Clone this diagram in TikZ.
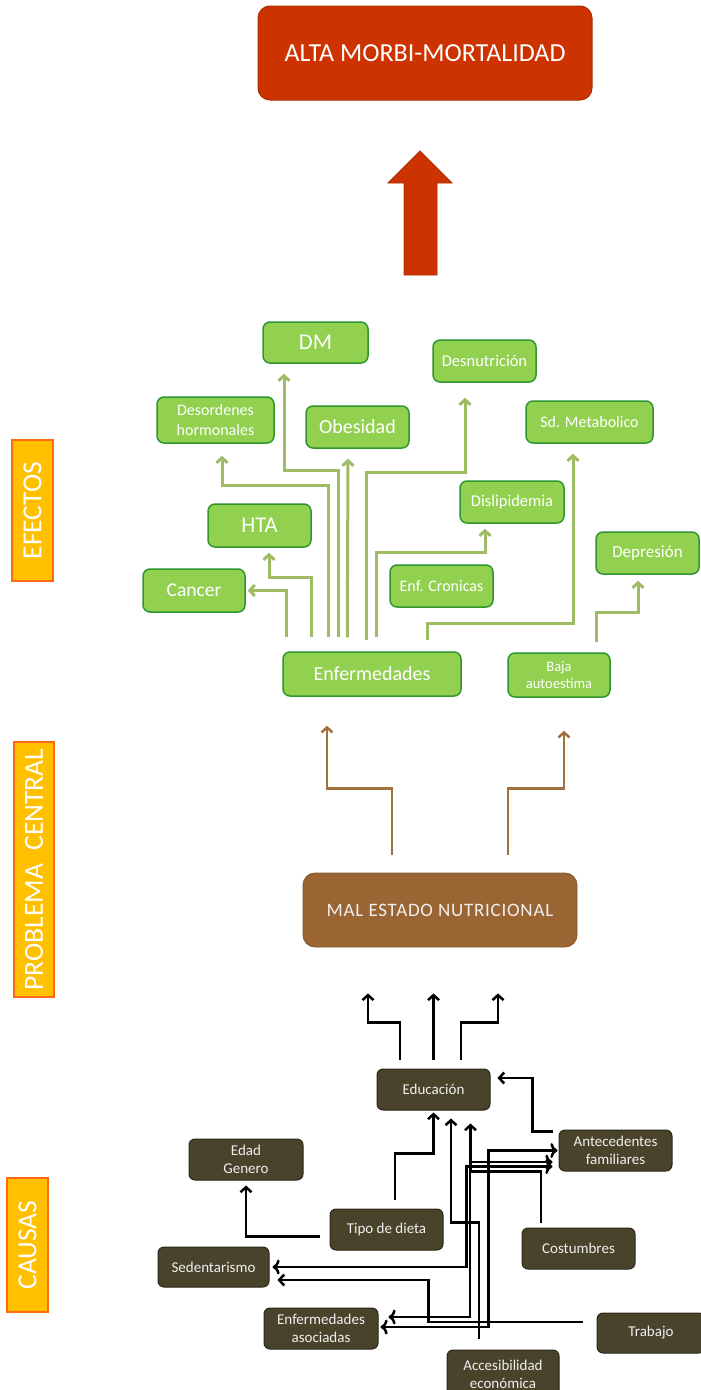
\documentclass[tikz,border=0pt]{standalone}
\usepackage{fontspec}
\setmainfont{Carlito}
\usetikzlibrary{arrows.meta, calc}

\definecolor{altared}{HTML}{CC3300}
\definecolor{altaborder}{HTML}{B02C00}
\definecolor{effgreen}{HTML}{92D050}
\definecolor{effborder}{HTML}{2F962F}
\definecolor{effline}{HTML}{9EBC66}
\definecolor{malfill}{HTML}{9A6433}
\definecolor{probline}{HTML}{A0703E}
\definecolor{causefill}{HTML}{4A432B}
\definecolor{causeborder}{HTML}{2A2718}
\definecolor{causetext}{HTML}{EFEFEF}
\definecolor{tagfill}{HTML}{FFC000}
\definecolor{tagborder}{HTML}{FF6A10}

\begin{document}
\begin{tikzpicture}[x=1pt, y=-1pt,
    effbox/.style={draw=effborder, fill=effgreen, line width=1.5pt, rounded corners=7pt, text=white, align=center, inner sep=1pt},
    causebox/.style={draw=causeborder, fill=causefill, line width=1pt, rounded corners=6pt, text=causetext, align=center, inner sep=1pt, font=\fontsize{15}{18}\selectfont},
    tagbox/.style={draw=tagborder, fill=tagfill, line width=1.5pt, text=white, rotate=90, inner sep=0pt, font=\fontsize{27.5}{30}\selectfont},
    effarrow/.style={-{Straight Barb[length=5pt,width=11pt]}, line width=3pt, effline},
    probarrow/.style={-{Straight Barb[length=5pt,width=11pt]}, line width=2.5pt, probline},
    causearrow/.style={-{Straight Barb[length=5pt,width=11pt]}, line width=2.5pt, black}]

    \useasboundingbox (0,0) rectangle (701,1390);

    \node[draw=altaborder, fill=altared, line width=1pt, rounded corners=12pt, text=white,
          minimum width=334, minimum height=94, font=\fontsize{26}{29}\selectfont] (alta) at (425,53) {ALTA MORBI-MORTALIDAD};
    \filldraw[fill=altared, draw=altaborder, line width=0.8pt]
        (404,275) -- (404,183) -- (388,183) -- (420,151) -- (452,183) -- (437,183) -- (437,275) -- cycle;

    \node[tagbox, minimum width=141, minimum height=41] (tagefe) at (32.5,510.5) {EFECTOS};
    \node[tagbox, minimum width=255, minimum height=40] (tagpro) at (34,869.5) {PROBLEMA\hspace{0.5em}CENTRAL};
    \node[tagbox, minimum width=134, minimum height=41] (tagcau) at (27.5,1245) {CAUSAS};

    \node[effbox, minimum width=105, minimum height=41, font=\fontsize{22.5}{25}\selectfont] (dm) at (315.5,342.5) {DM};
    \node[effbox, minimum width=117, minimum height=46, font=\fontsize{16}{19.5}\selectfont] (desord) at (215.5,420) {Desordenes\\hormonales};
    \node[effbox, minimum width=103, minimum height=42, font=\fontsize{20}{23}\selectfont] (obes) at (357.5,427) {Obesidad};
    \node[effbox, minimum width=103, minimum height=43, font=\fontsize{22.5}{25}\selectfont] (hta) at (259.5,525.5) {HTA};
    \node[effbox, minimum width=102, minimum height=43, font=\fontsize{19.5}{22}\selectfont] (cancer) at (194,590.5) {Cancer};
    \node[effbox, minimum width=178, minimum height=44, font=\fontsize{20}{23}\selectfont] (enf) at (372,674) {Enfermedades};
    \node[effbox, minimum width=103, minimum height=42, font=\fontsize{16}{19}\selectfont] (cron) at (441.5,586) {Enf. Cronicas};
    \node[effbox, minimum width=103, minimum height=42, font=\fontsize{16.5}{19}\selectfont] (desnut) at (484.5,361) {Desnutrición};
    \node[effbox, minimum width=127, minimum height=42, font=\fontsize{16}{19}\selectfont] (sdmet) at (589.5,422) {Sd. Metabolico};
    \node[effbox, minimum width=104, minimum height=42, font=\fontsize{16.5}{19}\selectfont] (dislip) at (512,502) {Dislipidemia};
    \node[effbox, minimum width=103, minimum height=42, font=\fontsize{17}{20}\selectfont] (depre) at (647.5,553) {Depresión};
    \node[effbox, minimum width=102, minimum height=44, font=\fontsize{14.5}{17}\selectfont] (baja) at (559,675) {Baja\\autoestima};

    \draw[effarrow] ([xshift=4pt,yshift=14pt]enf.north west) |- ([xshift=2pt]cancer.east);
    \draw[effarrow] ([xshift=29pt,yshift=14pt]enf.north west) |- ([xshift=9.5pt,yshift=-30pt]hta.south) -- ([xshift=9.5pt,yshift=-5pt]hta.south);
    \draw[effarrow] ([xshift=46pt,yshift=14pt]enf.north west) |- ([xshift=6.5pt,yshift=-42pt]desord.south) -- ([xshift=6.5pt,yshift=-12pt]desord.south);
    \draw[effarrow] ([xshift=56pt,yshift=14pt]enf.north west) |- ([xshift=-31.5pt,yshift=-107pt]dm.south) -- ([xshift=-31.5pt,yshift=-10pt]dm.south);
    \draw[effarrow] ([xshift=65pt,yshift=14pt]enf.north west) -- ([xshift=-9.5pt,yshift=-10pt]obes.south);
    \draw[effarrow] ([xshift=84pt,yshift=11pt]enf.north west) |- ([xshift=-19.5pt,yshift=-90pt]desnut.south) -- ([xshift=-19.5pt,yshift=-15pt]desnut.south);
    \draw[effarrow] ([xshift=94pt,yshift=14pt]enf.north west) |- ([xshift=-27pt,yshift=-29pt]dislip.south) -- ([xshift=-27pt,yshift=-5pt]dislip.south);
    \draw[effarrow] ([xshift=145pt,yshift=11pt]enf.north west) |- ([xshift=-16.5pt,yshift=-180pt]sdmet.south) -- ([xshift=-16.5pt,yshift=-10pt]sdmet.south);
    \draw[effarrow] ([xshift=37pt,yshift=10pt]baja.north) |- ([xshift=-9.5pt,yshift=-38pt]depre.south) -- ([xshift=-9.5pt,yshift=-6pt]depre.south);

    \node[fill=malfill, draw=malfill!85!black, line width=0.8pt, rounded corners=12pt, text=causetext,
          minimum width=274, minimum height=74, font=\fontsize{19}{22}\selectfont\addfontfeatures{LetterSpace=4}] (mal) at (440,910) {MAL ESTADO NUTRICIONAL};

    \draw[probarrow] ([xshift=-48pt,yshift=18pt]mal.north) -- ++(0,-66) -| ([xshift=-45pt,yshift=-29pt]enf.south);
    \draw[probarrow] ([xshift=68pt,yshift=18pt]mal.north) -- ++(0,-66) -| ([xshift=5pt,yshift=-33pt]baja.south);

    \node[causebox, minimum width=113, minimum height=41] (educ) at (433.5,1089.5) {Educación};
    \node[causebox, minimum width=114, minimum height=41] (edad) at (246,1159.5) {Edad\\Genero};
    \node[causebox, minimum width=113, minimum height=41] (tipo) at (386.5,1229.5) {Tipo de dieta};
    \node[causebox, minimum width=111, minimum height=40] (sedent) at (213.5,1267) {Sedentarismo};
    \node[causebox, minimum width=114, minimum height=41] (enfaso) at (321,1328.5) {Enfermedades\\asociadas};
    \node[causebox, minimum width=113, minimum height=41] (ante) at (615.5,1150.5) {Antecedentes\\familiares};
    \node[causebox, minimum width=113, minimum height=41] (cost) at (578.5,1248.5) {Costumbres};
    \node[causebox, minimum width=108, minimum height=40] (trab) at (651,1333) {Trabajo};
    \node[causebox, minimum width=112, minimum height=48] (acces) at (503,1374) {Accesibilidad\\económica};

    \draw[causearrow] ([xshift=-33.5pt,yshift=9pt]educ.north) -- ++(0,-37) -| ([xshift=-72pt,yshift=-46pt]mal.south);
    \draw[causearrow] ([yshift=9pt]educ.north) -- ([xshift=-6.5pt,yshift=-46pt]mal.south);
    \draw[causearrow] ([xshift=27.5pt,yshift=9pt]educ.north) -- ++(0,-37) -| ([xshift=58pt,yshift=-46pt]mal.south);

    \draw[causearrow] ([xshift=-6pt,yshift=-2pt]ante.north west) -- ++(-20,0) |- ([xshift=7pt,yshift=11.5pt]educ.east);
    \draw[causearrow] ([xshift=8.5pt,yshift=9pt]tipo.north) -- ++(0,-46) -| ([yshift=-2pt]educ.south);
    \draw[causearrow] ([xshift=-10pt,yshift=-7pt]tipo.west) -| ([yshift=-5pt]edad.south);
    \draw[causearrow] ([xshift=-24pt,yshift=11pt]acces.north) -- ++(0,-116) -| ([xshift=17.5pt,yshift=-8pt]educ.south);
    \draw[causearrow] ([xshift=-37.5pt,yshift=5pt]cost.north) -- ++(0,-51) -| ([xshift=37pt,yshift=-13pt]educ.south);
    \draw[causearrow, <->] ([xshift=-6pt,yshift=-11.5pt]ante.west) -- ++(-82.5,0) |- ([xshift=10pt,yshift=11.5pt]enfaso.east);
    \draw[causearrow, <->] ([xshift=-6pt,yshift=-16pt]ante.west) -- ++(-86,0) |- ([xshift=3pt]sedent.east);
    \draw[causearrow, <->] ([xshift=-1pt]ante.west) -- ++(-69,0) |- ([xshift=2pt,yshift=1.5pt]enfaso.east);
    \draw[causearrow] ([xshift=-14pt,yshift=11pt]trab.west) -- ++(-154,0) |- ([xshift=8pt,yshift=-13pt]sedent.east);
\end{tikzpicture}
\end{document}
